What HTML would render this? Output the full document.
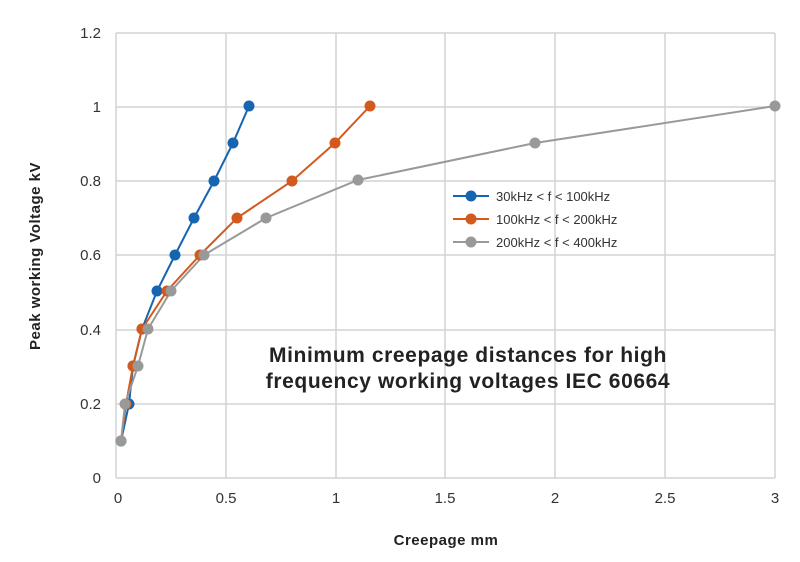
<!DOCTYPE html>
<html><head><style>body{margin:0;background:#fff}svg{display:block}text{font-family:"Liberation Sans",sans-serif}</style></head><body>
<svg width="800" height="562" xmlns="http://www.w3.org/2000/svg">
<g stroke="#d4d4d4" stroke-width="1.5" fill="none">
<line x1="116" y1="33" x2="775" y2="33"/><line x1="116" y1="107" x2="775" y2="107"/><line x1="116" y1="181" x2="775" y2="181"/><line x1="116" y1="255" x2="775" y2="255"/><line x1="116" y1="330" x2="775" y2="330"/><line x1="116" y1="404" x2="775" y2="404"/><line x1="116" y1="478" x2="775" y2="478"/>
<line x1="116" y1="33" x2="116" y2="478"/><line x1="226" y1="33" x2="226" y2="478"/><line x1="336" y1="33" x2="336" y2="478"/><line x1="445" y1="33" x2="445" y2="478"/><line x1="555" y1="33" x2="555" y2="478"/><line x1="665" y1="33" x2="665" y2="478"/><line x1="775" y1="33" x2="775" y2="478"/>
</g>
<g font-size="15" fill="#333" text-anchor="end">
<text x="101" y="38">1.2</text><text x="101" y="112">1</text><text x="101" y="186">0.8</text><text x="101" y="260">0.6</text><text x="101" y="335">0.4</text><text x="101" y="409">0.2</text><text x="101" y="483">0</text>
</g>
<g font-size="15" fill="#333" text-anchor="middle">
<text x="118" y="503">0</text><text x="226" y="503">0.5</text><text x="336" y="503">1</text><text x="445" y="503">1.5</text><text x="555" y="503">2</text><text x="665" y="503">2.5</text><text x="775" y="503">3</text>
</g>
<text x="446" y="545" font-size="15" font-weight="bold" fill="#222" text-anchor="middle" letter-spacing="0.5">Creepage mm</text>
<text transform="translate(40,256) rotate(-90)" font-size="15" font-weight="bold" fill="#222" text-anchor="middle" letter-spacing="0.5">Peak working Voltage kV</text>
<text x="468" y="362" font-size="21" font-weight="bold" fill="#222" text-anchor="middle" letter-spacing="0.6">Minimum creepage distances for high</text>
<text x="468" y="388" font-size="21" font-weight="bold" fill="#222" text-anchor="middle" letter-spacing="0.6">frequency working voltages IEC 60664</text>
<g fill="none" stroke-width="2">
<polyline stroke="#1565b0" points="121,441 129,404 133,366 142,329 157,291 175,255 194,218 214,181 233,143 249,106"/>
<polyline stroke="#d35a1c" points="121,441 126,404 133,366 142,329 167,291 200,255 237,218 292,181 335,143 370,106"/>
<polyline stroke="#999" points="121,441 125,404 138,366 148,329 171,291 204,255 266,218 358,180 535,143 775,106"/>
</g>
<g fill="#1565b0"><circle cx="121" cy="441" r="5.5"/><circle cx="129" cy="404" r="5.5"/><circle cx="133" cy="366" r="5.5"/><circle cx="142" cy="329" r="5.5"/><circle cx="157" cy="291" r="5.5"/><circle cx="175" cy="255" r="5.5"/><circle cx="194" cy="218" r="5.5"/><circle cx="214" cy="181" r="5.5"/><circle cx="233" cy="143" r="5.5"/><circle cx="249" cy="106" r="5.5"/></g>
<g fill="#d35a1c"><circle cx="126" cy="404" r="5.5"/><circle cx="133" cy="366" r="5.5"/><circle cx="142" cy="329" r="5.5"/><circle cx="167" cy="291" r="5.5"/><circle cx="200" cy="255" r="5.5"/><circle cx="237" cy="218" r="5.5"/><circle cx="292" cy="181" r="5.5"/><circle cx="335" cy="143" r="5.5"/><circle cx="370" cy="106" r="5.5"/></g>
<g fill="#999"><circle cx="121" cy="441" r="5.5"/><circle cx="125" cy="404" r="5.5"/><circle cx="138" cy="366" r="5.5"/><circle cx="148" cy="329" r="5.5"/><circle cx="171" cy="291" r="5.5"/><circle cx="204" cy="255" r="5.5"/><circle cx="266" cy="218" r="5.5"/><circle cx="358" cy="180" r="5.5"/><circle cx="535" cy="143" r="5.5"/><circle cx="775" cy="106" r="5.5"/></g>
<g stroke-width="2">
<line x1="453" y1="196" x2="489" y2="196" stroke="#1565b0"/><circle cx="471" cy="196" r="5.5" fill="#1565b0"/>
<line x1="453" y1="219" x2="489" y2="219" stroke="#d35a1c"/><circle cx="471" cy="219" r="5.5" fill="#d35a1c"/>
<line x1="453" y1="242" x2="489" y2="242" stroke="#999"/><circle cx="471" cy="242" r="5.5" fill="#999"/>
</g>
<g font-size="13" fill="#333">
<text x="496" y="201">30kHz &lt; f &lt; 100kHz</text>
<text x="496" y="224">100kHz &lt; f &lt; 200kHz</text>
<text x="496" y="247">200kHz &lt; f &lt; 400kHz</text>
</g>
</svg>
</body></html>
